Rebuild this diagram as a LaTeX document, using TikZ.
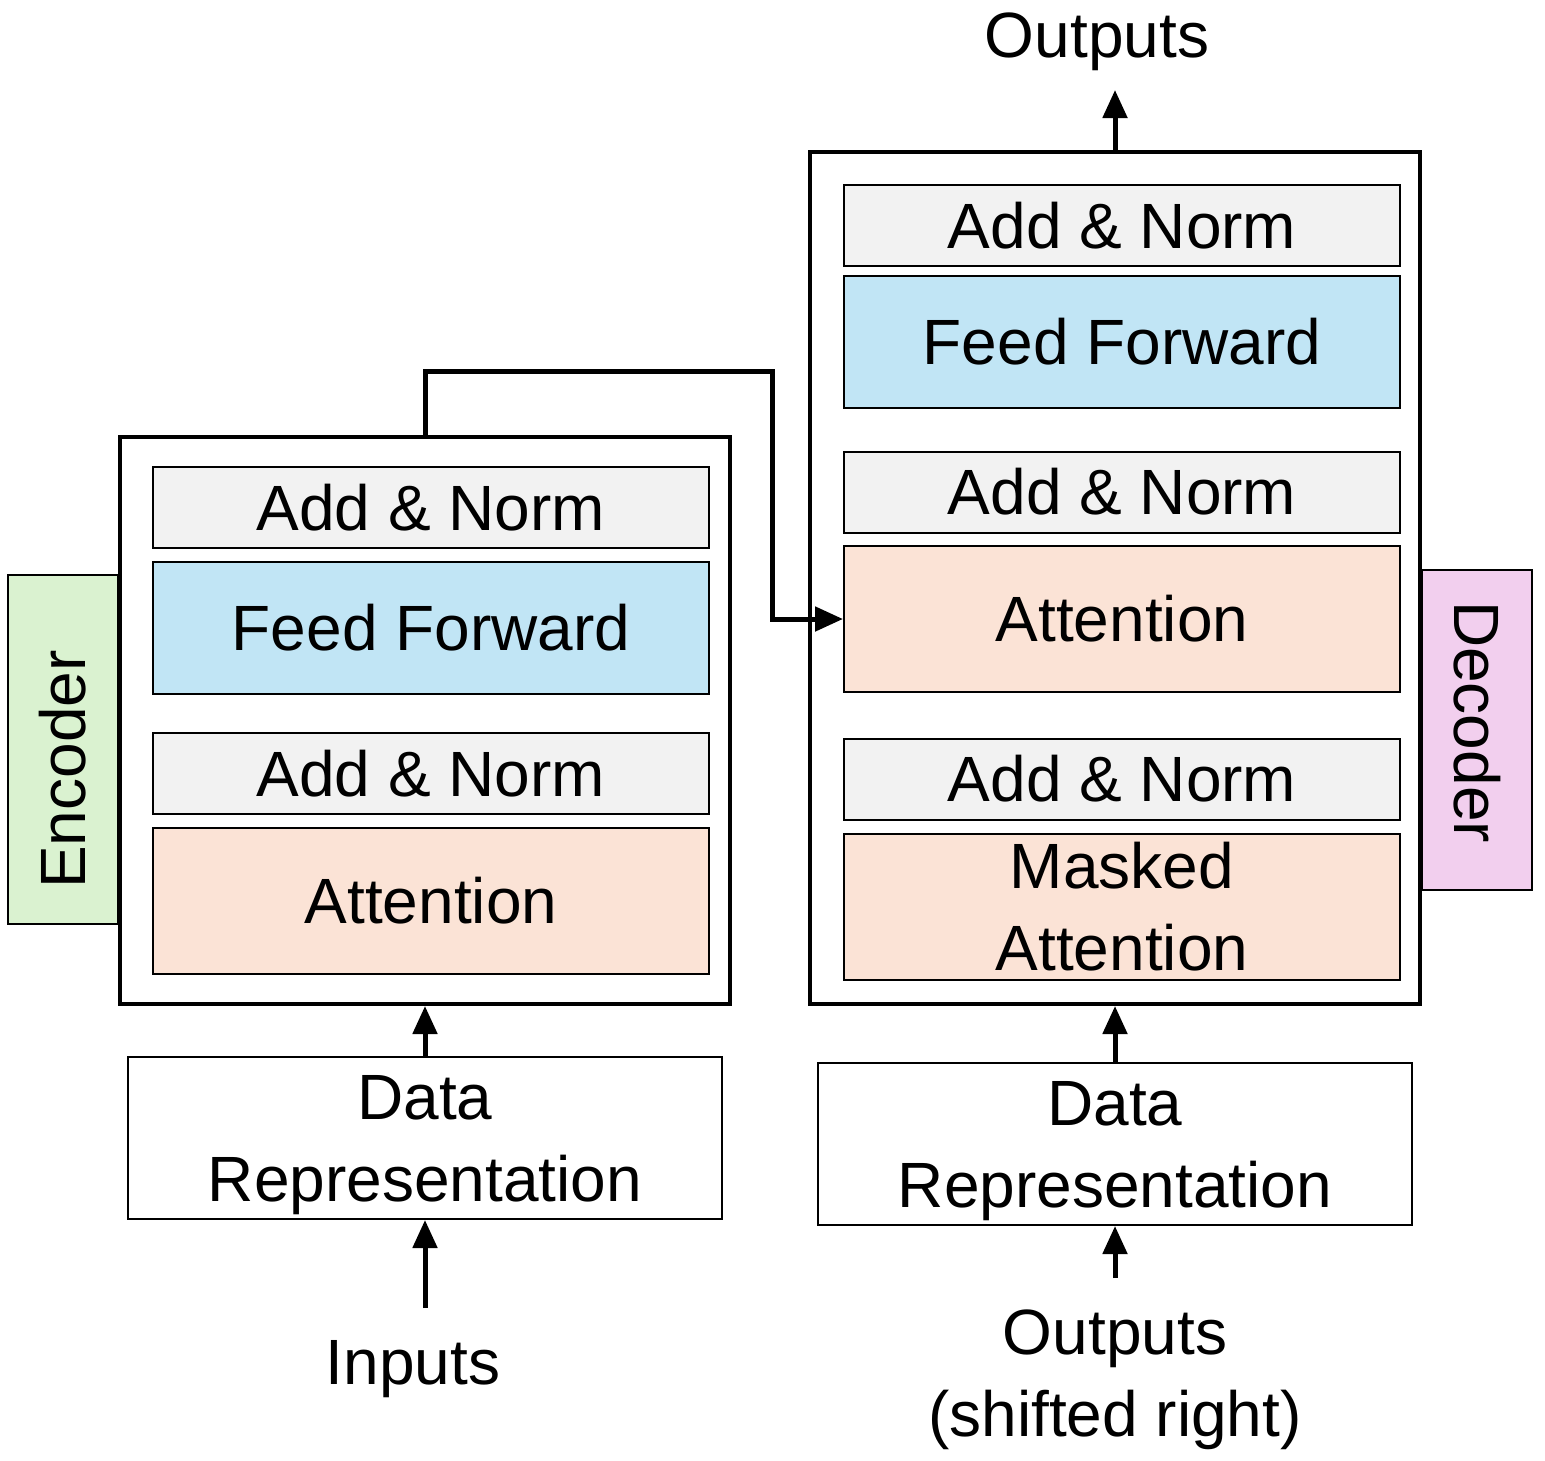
\documentclass[tikz,border=0pt]{standalone}
\usepackage{fontspec}
\setmainfont{Liberation Sans}
\usetikzlibrary{arrows.meta}
\definecolor{cgray}{HTML}{F2F2F2}
\definecolor{cblue}{HTML}{C1E5F5}
\definecolor{cpeach}{HTML}{FBE3D6}
\definecolor{cgreen}{HTML}{DAF2D0}
\definecolor{cpink}{HTML}{F2CFEE}
\tikzset{
  base/.style={draw=black, line width=2pt, inner sep=0pt, align=center, font=\fontsize{64}{82}\selectfont},
  normbox/.style={base, fill=cgray, minimum width=556pt, minimum height=81pt},
  ffbox/.style={base, fill=cblue, minimum width=556pt, minimum height=132pt},
  attbox/.style={base, fill=cpeach, minimum width=556pt, minimum height=146pt},
  outerbox/.style={draw=black, line width=4pt, inner sep=0pt},
  databox/.style={base, fill=white, minimum width=594pt, minimum height=162pt, text depth=0pt},
  sidelabel/.style={base, minimum width=349pt, minimum height=110pt},
  plain/.style={inner sep=0pt, align=center, font=\fontsize{64}{82}\selectfont, text depth=0pt},
  arrowline/.style={line width=5pt, -{Triangle[width=24pt,length=28pt]}},
  conn/.style={line width=5pt}
}
\begin{document}
\begin{tikzpicture}[x=1pt,y=-1pt]
\useasboundingbox (0,0) rectangle (1545,1460);
% Encoder
\node[outerbox, minimum width=610pt, minimum height=567pt] (enc) at (425,720.5) {};
\node[normbox] (en2) at (431,507.5) {Add \& Norm};
\node[ffbox] (eff) at (431,628) {Feed Forward};
\node[normbox] (en1) at (431,773.5) {Add \& Norm};
\node[attbox] (eatt) at (431,901) {Attention};
\node[sidelabel, fill=cgreen, rotate=90] (elab) at (63,749.5) {Encoder\hspace{40pt}};
% Decoder
\node[outerbox, minimum width=610pt, minimum height=852pt] (dec) at (1115,578) {};
\node[normbox] (dn3) at (1122,225.5) {Add \& Norm};
\node[ffbox] (dff) at (1122,341.5) {Feed Forward};
\node[normbox] (dn2) at (1122,492) {Add \& Norm};
\node[attbox] (datt) at (1122,619) {Attention};
\node[normbox] (dn1) at (1122,779) {Add \& Norm};
\node[attbox] (dmatt) at (1122,907) {Masked\\Attention};
\node[sidelabel, fill=cpink, rotate=-90, minimum width=320pt] (dlab) at (1477,730) {Decoder\hspace{16pt}};
% Data representation
\node[databox] (edr) at (425,1138) {Data\\Representation};
\node[databox] (ddr) at (1115,1144) {Data\\Representation};
% Texts
\node[plain] (out) at (1097,35) {Outputs};
\node[plain] (inp) at (413,1362) {Inputs};
\node[plain] (sout) at (1115,1373) {Outputs\\(shifted right)};
% Coordinates
\coordinate (outtip) at (1115,90);
\coordinate (inpstart) at (425,1308);
\coordinate (soutstart) at (1115,1278);
\coordinate (c1) at (425,371);
\coordinate (c2) at (772,371);
% Connectors
\draw[arrowline] (dec.north) -- (outtip);
\draw[arrowline] (edr.north) -- (enc.south);
\draw[arrowline] (ddr.north) -- (dec.south);
\draw[arrowline] (inpstart) -- (edr.south);
\draw[arrowline] (soutstart) -- (ddr.south);
\draw[arrowline, line join=miter] (enc.north) -- (c1) -- (c2) |- (datt.west);
\end{tikzpicture}
\end{document}
